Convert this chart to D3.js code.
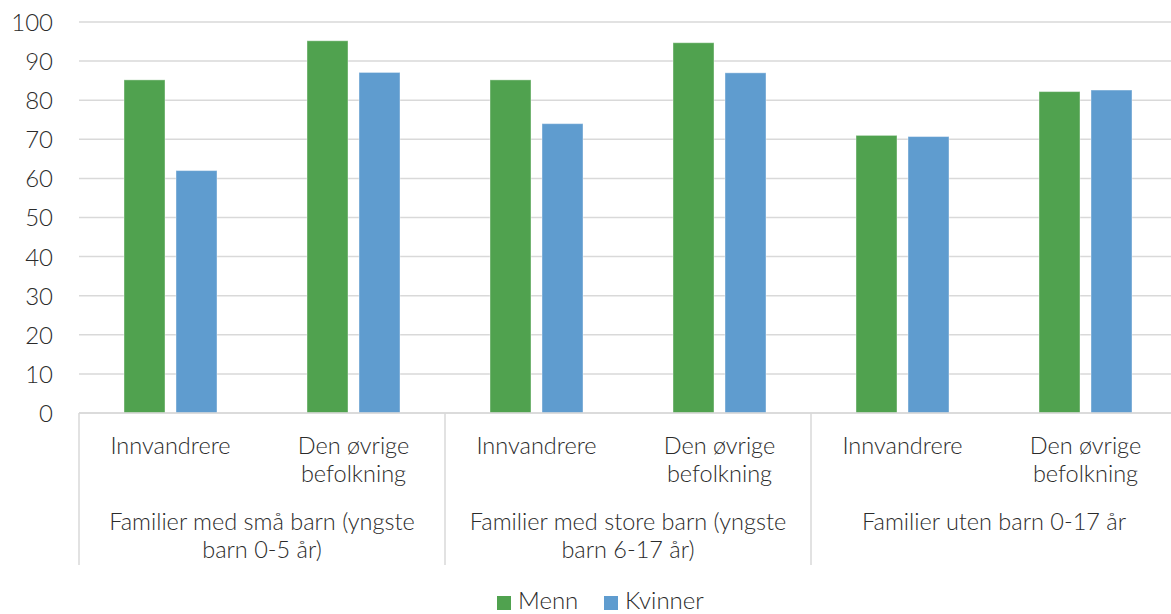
<!DOCTYPE html>
<html><head><meta charset="utf-8">
<script src="https://cdn.jsdelivr.net/npm/d3@7"></script>
<style>
html,body{margin:0;padding:0;background:#fff;}
svg text{font-family:"Lato","Open Sans",sans-serif;font-weight:300;fill:#2b2b2b;}
</style></head>
<body><svg id="c" width="1171" height="614"></svg>
<script>
const groupLabels = [["Familier med små barn (yngste","barn 0-5 år)"],["Familier med store barn (yngste","barn 6-17 år)"],["Familier uten barn 0-17 år"]];
const subLabels = [["Innvandrere"],["Den øvrige","befolkning"]];
const seriesNames = ["Menn","Kvinner"];
const seriesColors = ["#50a24f","#5f9ccf"];
const menn = [85.2, 95.2, 85.2, 94.7, 71.0, 82.2];
const kvinner = [62.0, 87.1, 74.0, 87.0, 70.7, 82.6];
const yTicks = [0,10,20,30,40,50,60,70,80,90,100];

(function(){
const svg = d3.select("#c");
const pL = 79, pR = 1177, pT = 22, pB = 413;
const cats = d3.range(6);
const x0 = d3.scaleBand().domain(cats).range([pL,pR]);
const x1 = d3.scaleBand().domain(seriesNames).range([45,138]).paddingInner(0.2115);
const y = d3.scaleLinear().domain([0,100]).range([pB,pT]);
const xg = d3.scaleBand().domain(d3.range(3)).range([pL,pR]);

svg.append("g").selectAll("line").data(yTicks).join("line")
  .attr("x1",pL).attr("x2",pR).attr("y1",d=>y(d)).attr("y2",d=>y(d))
  .attr("stroke","#d9d9d9").attr("stroke-width",1.5);

const yAxis = d3.axisLeft(y).tickValues(yTicks).tickSize(0).tickPadding(0);
const ya = svg.append("g").attr("transform",`translate(53,0)`).call(yAxis);
ya.select(".domain").remove();
ya.selectAll("text").style("font-size","24px").attr("dy","0.35em").style("font-family","Lato, 'Open Sans', sans-serif").style("font-weight",300).attr("fill","#2b2b2b");

const data = cats.map(i=>({i, vals:[menn[i],kvinner[i]]}));
const cg = svg.append("g").selectAll("g").data(data).join("g")
  .attr("transform",d=>`translate(${x0(d.i)},0)`);
cg.selectAll("rect").data(d=>d.vals.map((v,k)=>({v,k}))).join("rect")
  .attr("x",d=>x1(seriesNames[d.k])).attr("width",x1.bandwidth())
  .attr("y",d=>y(d.v)).attr("height",d=>y(0)-y(d.v))
  .attr("fill",d=>seriesColors[d.k]).attr("stroke","rgba(255,255,255,0.4)").attr("stroke-width",1);

svg.append("line").attr("x1",pL).attr("x2",pR).attr("y1",pB).attr("y2",pB)
  .attr("stroke","#d9d9d9").attr("stroke-width",1.5);
svg.append("g").selectAll("line").data(d3.range(3)).join("line")
  .attr("x1",d=>xg(d)).attr("x2",d=>xg(d)).attr("y1",pB).attr("y2",565)
  .attr("stroke","#d9d9d9").attr("stroke-width",1.5);

cats.forEach(i=>{
  const lines = subLabels[i%2];
  const cx = x0(i)+x0.bandwidth()/2;
  const t = svg.append("text").attr("text-anchor","middle").style("font-size","23.5px").attr("x",cx).attr("y",454);
  lines.forEach((l,j)=>t.append("tspan").attr("x",cx).attr("dy",j?28:0).text(l));
});
groupLabels.forEach((lines,g)=>{
  const cx = xg(g)+xg.bandwidth()/2;
  const t = svg.append("text").attr("text-anchor","middle").style("font-size","23.5px").attr("x",cx).attr("y",530);
  lines.forEach((l,j)=>t.append("tspan").attr("x",cx).attr("dy",j?28:0).text(l));
});

const legX = [497,604];
seriesNames.forEach((s,k)=>{
  svg.append("rect").attr("x",legX[k]).attr("y",596).attr("width",14).attr("height",14).attr("fill",seriesColors[k]);
  svg.append("text").attr("x",legX[k]+21).attr("y",609).style("font-size","24px").text(s);
});
})();
</script></body></html>
